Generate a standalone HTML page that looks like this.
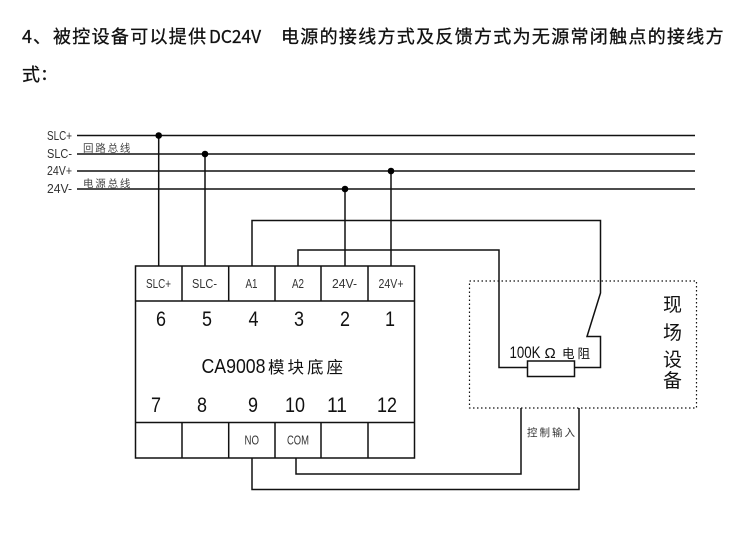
<!DOCTYPE html>
<html><head><meta charset="utf-8"><style>
html,body{margin:0;padding:0;background:#fff;width:750px;height:544px;overflow:hidden}
svg{display:block}
text{font-family:"Liberation Sans","Noto Sans CJK SC",sans-serif;fill:#111}
.z{font-family:"WenQuanYi Zen Hei","Noto Sans CJK SC",sans-serif}
.s{font-size:12.5px;fill:#333}
.n{font-size:21px;text-anchor:middle}
.b{font-size:12.5px;fill:#333}
.t{font-size:18px;stroke:#111;stroke-width:.3}
</style></head><body>
<svg width="750" height="544" viewBox="0 0 750 544" xmlns="http://www.w3.org/2000/svg">
<text x="22" y="43" class="z t" textLength="10" lengthAdjust="spacingAndGlyphs">4</text>
<text x="33" y="43" class="z t">、</text>
<text x="53" y="43" class="z t" letter-spacing="1.3">被控设备可以提供</text>
<text x="209" y="43" class="z t" textLength="52" lengthAdjust="spacingAndGlyphs">DC24V</text>
<text x="281" y="43" class="z t" letter-spacing="1.3">电源的接线方式及反馈方式为无源常闭触点的接线方</text>
<text x="22" y="81" class="z t">式</text>
<text x="42" y="80" class="z t">:</text>
<g fill="none" stroke="#111" stroke-width="1.5">
<path d="M77 135.5H695M77 154H695M77 171H695M77 189H695"/>
<path d="M158.7 135.5V266M205 154V266M345 189V266M391 171V266"/>
<path d="M252 266V220.5H600.5V293L587 336.5H600.5V367.5H574.7M527.5 367.5H499V250H298V266"/>
<rect x="135.5" y="266" width="279" height="192"/>
<path d="M135.5 301H414.5M135.5 422.5H414.5M182 266V301M228.7 266V301M275 266V301M321 266V301M368 266V301M182 422.5V458M228.7 422.5V458M275 422.5V458M321 422.5V458M368 422.5V458"/>
<rect x="527.5" y="361" width="47" height="15.5"/>
<path d="M296 458V474H521V408M252 458V489.5H579V408"/>
<rect x="469.5" y="281" width="227" height="127" stroke-dasharray="1.5 2.5" stroke-width="1.2"/>
</g>
<g fill="#000"><circle cx="158.7" cy="135.5" r="3.3"/><circle cx="205" cy="154" r="3.3"/><circle cx="345" cy="189" r="3.3"/><circle cx="391" cy="171" r="3.3"/></g>
<g class="b">
<text x="47" y="140" class="b" textLength="25" lengthAdjust="spacingAndGlyphs">SLC+</text>
<text x="47" y="158" class="b" textLength="25" lengthAdjust="spacingAndGlyphs">SLC-</text>
<text x="47" y="175" class="b" textLength="25" lengthAdjust="spacingAndGlyphs">24V+</text>
<text x="47" y="193" class="b" textLength="25" lengthAdjust="spacingAndGlyphs">24V-</text>
</g>
<text x="83" y="151.5" class="z" font-size="10.5" letter-spacing="1.8" style="fill:#444">回路总线</text>
<text x="83" y="187" class="z" font-size="10.5" letter-spacing="1.8" style="fill:#444">电源总线</text>
<text x="146" y="288" class="s" textLength="25" lengthAdjust="spacingAndGlyphs">SLC+</text>
<text x="192" y="288" class="s" textLength="25" lengthAdjust="spacingAndGlyphs">SLC-</text>
<text x="245.5" y="288" class="s" textLength="12" lengthAdjust="spacingAndGlyphs">A1</text>
<text x="292" y="288" class="s" textLength="12" lengthAdjust="spacingAndGlyphs">A2</text>
<text x="332" y="288" class="s" textLength="25" lengthAdjust="spacingAndGlyphs">24V-</text>
<text x="378.5" y="288" class="s" textLength="25" lengthAdjust="spacingAndGlyphs">24V+</text>
<text x="244.5" y="444.5" class="s" textLength="14.5" lengthAdjust="spacingAndGlyphs">NO</text>
<text x="287" y="444.5" class="s" textLength="22" lengthAdjust="spacingAndGlyphs">COM</text>
<text x="161" y="326" class="n" textLength="10" lengthAdjust="spacingAndGlyphs">6</text>
<text x="207" y="326" class="n" textLength="10" lengthAdjust="spacingAndGlyphs">5</text>
<text x="253.5" y="326" class="n" textLength="10" lengthAdjust="spacingAndGlyphs">4</text>
<text x="299" y="326" class="n" textLength="10" lengthAdjust="spacingAndGlyphs">3</text>
<text x="345" y="326" class="n" textLength="10" lengthAdjust="spacingAndGlyphs">2</text>
<text x="390" y="326" class="n" textLength="10" lengthAdjust="spacingAndGlyphs">1</text>
<text x="156" y="412" class="n" textLength="10" lengthAdjust="spacingAndGlyphs">7</text>
<text x="202" y="412" class="n" textLength="10" lengthAdjust="spacingAndGlyphs">8</text>
<text x="253" y="412" class="n" textLength="10" lengthAdjust="spacingAndGlyphs">9</text>
<text x="295" y="412" class="n" textLength="20" lengthAdjust="spacingAndGlyphs">10</text>
<text x="337" y="412" class="n" textLength="20" lengthAdjust="spacingAndGlyphs">11</text>
<text x="387" y="412" class="n" textLength="20" lengthAdjust="spacingAndGlyphs">12</text>
<text x="201.5" y="373" font-size="20.5" textLength="64" lengthAdjust="spacingAndGlyphs">CA9008</text>
<text x="268" y="373" class="z" font-size="16.5" letter-spacing="3">模块底座</text>
<text x="509.5" y="358" font-size="17" textLength="31" lengthAdjust="spacingAndGlyphs">100K</text>
<text x="544.5" y="358" font-size="15">Ω</text>
<text x="562" y="358" class="z" font-size="12.5" letter-spacing="3">电阻</text>
<text x="527" y="436" class="z" font-size="10.5" letter-spacing="2" style="fill:#333">控制输入</text>
<text x="663" y="311" class="z" font-size="19">现</text>
<text x="663" y="339" class="z" font-size="19">场</text>
<text x="663" y="366" class="z" font-size="19">设</text>
<text x="663" y="387" class="z" font-size="19">备</text>
</svg>
</body></html>
